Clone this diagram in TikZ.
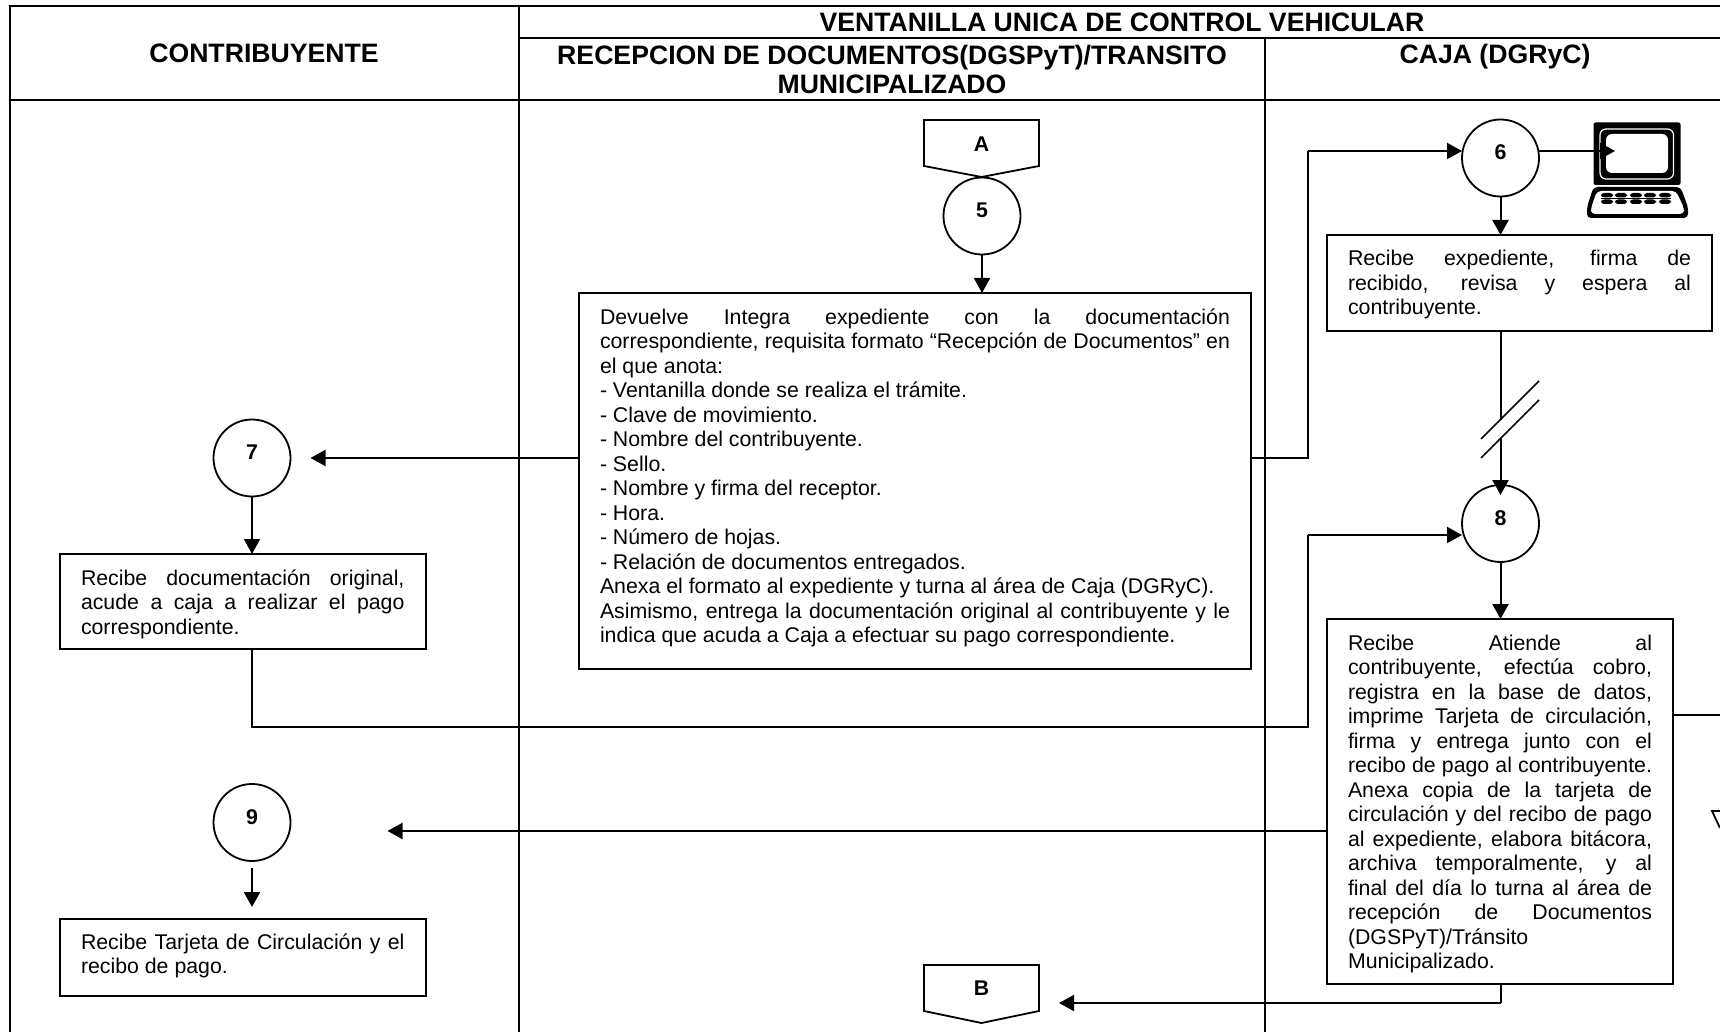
\documentclass[tikz,border=0pt]{standalone}
\usepackage{fontspec}
\setmainfont{Liberation Sans}
\usetikzlibrary{arrows.meta}
\newcommand{\bodyfnt}{\fontsize{10.65}{12.25}\selectfont}
\newcommand{\headfnt}{\fontsize{13.32}{15}\selectfont\bfseries}
\newcommand{\jln}[1]{\hbox to \hsize{\rule{0pt}{8pt}\rule[-3pt]{0pt}{3pt}#1}}
\newcommand{\pln}[1]{\hbox to \hsize{\rule{0pt}{8pt}\rule[-3pt]{0pt}{3pt}#1\hfil}}
\newcommand{\tbody}[3]{\vbox to #2{\hsize=#1\relax\vskip 7.5pt #3\vfil}}
\newcommand{\numtxt}[1]{\raisebox{-0.8pt}[0pt][0pt]{\bfseries #1}}
\tikzset{
  grid line/.style={line width=1.25pt,black},
  conn/.style={line width=1pt,black,-{Triangle[length=7.5pt,width=8pt]}},
  plainconn/.style={line width=1pt,black},
  tbox/.style={draw,line width=1pt,inner xsep=10.5pt,inner ysep=0pt,outer sep=0pt,anchor=north west,font=\bodyfnt},
  numcirc/.style={draw,circle,line width=0.9pt,minimum size=38.5pt,inner sep=0pt,outer sep=0pt,font=\bodyfnt},
  headtxt/.style={anchor=base,inner sep=0pt,font=\headfnt},
  lbl/.style={inner sep=0pt,font=\bodyfnt\bfseries},
  offpage/.style={line width=0.9pt,black,fill=white,line join=miter}
}
\begin{document}
\begin{tikzpicture}[x=0.5pt,y=-0.5pt]
\fill[white] (0,0) rectangle (1720,1032);
\useasboundingbox (0,0) rectangle (1720,1032);
% frame
\draw[grid line] (1720,6) -- (10,6) -- (10,1032);
\draw[grid line] (10,100) -- (1720,100);
\draw[grid line] (519,38) -- (1720,38);
\draw[grid line] (519,6) -- (519,1032);
\draw[grid line] (1265,38) -- (1265,1032);
% headers
\node[headtxt] (hV) at (1122,31.7) {VENTANILLA UNICA DE CONTROL VEHICULAR};
\node[headtxt] (hC) at (264,63) {CONTRIBUYENTE};
\node[headtxt] (hR1) at (892,64.5) {RECEPCION DE DOCUMENTOS(DGSPyT)/TRANSITO};
\node[headtxt] (hR2) at (892,94) {MUNICIPALIZADO};
\node[headtxt] (hJ) at (1495,64) {CAJA (DGRyC)};
% boxes
\node[tbox] (b5) at (579,293) {\tbody{315pt}{188pt}{%
 \jln{Devuelve Integra expediente con la documentación}
 \jln{correspondiente, requisita formato “Recepción de Documentos” en}
 \pln{el que anota:}
 \pln{- Ventanilla donde se realiza el trámite.}
 \pln{- Clave de movimiento.}
 \pln{- Nombre del contribuyente.}
 \pln{- Sello.}
 \pln{- Nombre y firma del receptor.}
 \pln{- Hora.}
 \pln{- Número de hojas.}
 \pln{- Relación de documentos entregados.}
 \pln{Anexa el formato al expediente y turna al área de Caja (DGRyC).}
 \jln{Asimismo, entrega la documentación original al contribuyente y le}
 \pln{indica que acuda a Caja a efectuar su pago correspondiente.}}};
\node[tbox] (b6) at (1327,235) {\tbody{171.5pt}{48.25pt}{%
 \jln{Recibe expediente, firma de}
 \jln{recibido, revisa y espera al}
 \pln{contribuyente.}}};
\node[tbox] (b7) at (60,554) {\tbody{161.75pt}{47.5pt}{%
 \jln{Recibe documentación original,}
 \jln{acude a caja a realizar el pago}
 \pln{correspondiente.}}};
\node[tbox] (b8) at (1327,619) {\tbody{152pt}{182.5pt}{%
 \jln{Recibe Atiende al}
 \jln{contribuyente, efectúa cobro,}
 \jln{registra en la base de datos,}
 \jln{imprime Tarjeta de circulación,}
 \jln{firma y entrega junto con el}
 \jln{recibo de pago al contribuyente.}
 \jln{Anexa copia de la tarjeta de}
 \jln{circulación y del recibo de pago}
 \jln{al expediente, elabora bitácora,}
 \jln{archiva temporalmente, y al}
 \jln{final del día lo turna al área de}
 \jln{recepción de Documentos}
 \pln{(DGSPyT)/Tránsito}
 \pln{Municipalizado.}}};
\node[tbox] (b9) at (60,919) {\tbody{161.75pt}{38.5pt}{%
 \vskip -0.5pt
 \jln{Recibe Tarjeta de Circulación y el}
 \pln{recibo de pago.}}};
% off-page connectors
\draw[offpage] (924,120) -- (1039,120) -- (1039,166) -- (981.5,177) -- (924,166) -- cycle;
\node[lbl] (lA) at (981.5,144) {A};
\draw[offpage] (924,965) -- (1039,965) -- (1039,1011) -- (981.5,1023) -- (924,1011) -- cycle;
\node[lbl] (lB) at (981.5,988) {B};
% circles
\node[numcirc] (c5) at (982,216) {\numtxt{5}};
\node[numcirc] (c6) at (1500.5,158) {\numtxt{6}};
\node[numcirc] (c7) at (252,458) {\numtxt{7}};
\node[numcirc] (c8) at (1500.5,523.5) {\numtxt{8}};
\node[numcirc] (c9) at (252,822.5) {\numtxt{9}};
% computer
\begin{scope}
\fill[black,rounded corners=1pt] (1593.5,122.5) rectangle (1680.5,185);
\draw[white,line width=0.6pt,rounded corners=3pt] (1600,129) rectangle (1673.5,179);
\fill[white,rounded corners=3pt] (1606,134) rectangle (1668,173);
\fill[black,rounded corners=2pt] (1593.5,187) -- (1680.5,187) -- (1688,207) -- (1688,218) -- (1587,218) -- (1587,207) -- cycle;
\fill[white,rounded corners=2pt] (1597,191) -- (1676,191) -- (1684,208) -- (1684,214) -- (1591,214) -- (1591,208) -- cycle;
\foreach \kx in {1607,1621,1636,1650,1665}{\fill[black,rounded corners=1.5pt] (\kx-6,193) rectangle (\kx+6,197.5);
  \fill[black,rounded corners=1.5pt] (\kx-6,199.5) rectangle (\kx+6,204);}
\draw[black,line width=0.5pt] (1601,198.5) -- (1671,198.5);
\end{scope}
% free ends and bends
\coordinate (t7) at (310.5,458);
\coordinate (o5) at (1251,458);
\coordinate (j6) at (1308,151);
\coordinate (tc) at (1615,151);
\coordinate (s1) at (1500.5,420);
\coordinate (s2) at (1500.5,439);
\coordinate (t8) at (1500.5,495);
\coordinate (j7a) at (252,727);
\coordinate (j7b) at (1308,727);
\coordinate (j8) at (1308,535);
\coordinate (o9) at (252,868);
\coordinate (t9) at (252,907);
\coordinate (tb9) at (387.5,831);
\coordinate (eR) at (1720,715);
\coordinate (jB) at (1500.5,1003);
\coordinate (tB) at (1059,1003);
% connectors
\draw[conn] (c5.south) -- (c5.south |- b5.north);
\draw[conn] (b5.west |- t7) -- (t7);
\draw[plainconn] (b5.east |- o5) -- (j6 |- o5) -- (j6);
\draw[conn] (j6) -- (c6.west |- j6);
\draw[conn] (c6.east |- j6) -- (tc);
\draw[conn] (c6.south) -- (c6.south |- b6.north);
\draw[plainconn] (c6.south |- b6.south) -- (s1);
\draw[conn] (s2) -- (t8);
\draw[line width=0.75pt] (1481,439) -- (1539,381);
\draw[line width=0.75pt] (1481,458) -- (1539,400);
\draw[conn] (c8.south) -- (c8.south |- b8.north);
\draw[conn] (c7.south) -- (c7.south |- b7.north);
\draw[plainconn] (c7.south |- b7.south) -- (j7a) -- (j7b) -- (j8);
\draw[conn] (j8) -- (c8.west |- j8);
\draw[conn] (o9) -- (t9);
\draw[conn] (b8.west |- tb9) -- (tb9);
\draw[plainconn] (b8.east |- eR) -- (eR);
\draw[plainconn] (jB |- b8.south) -- (jB);
\draw[conn] (jB) -- (tB);
% cut-off triangle
\draw[line width=0.9pt] (1720,811) -- (1712,811) -- (1720,828);
\end{tikzpicture}
\end{document}
